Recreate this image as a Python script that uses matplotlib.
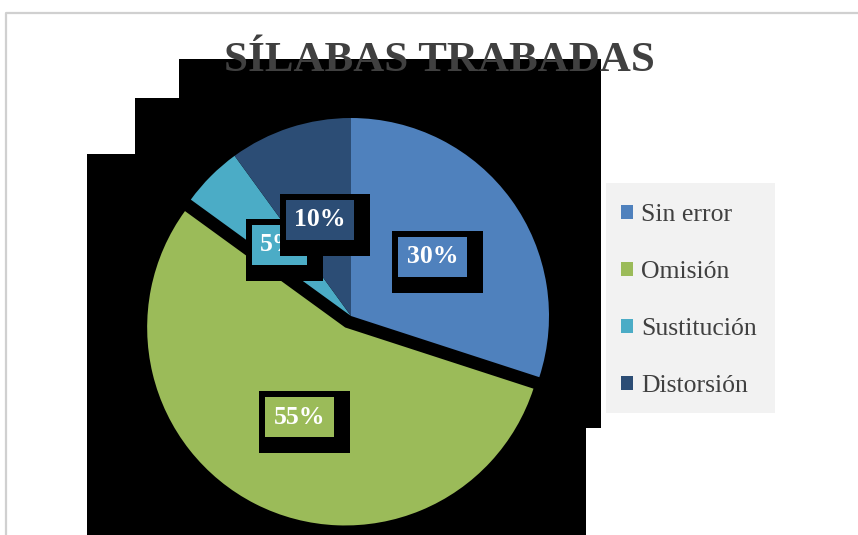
import matplotlib.pyplot as plt
from matplotlib.patches import Polygon, Rectangle
from matplotlib.lines import Line2D
from matplotlib.transforms import offset_copy

# data
categories = ["Sin error", "Omisión", "Sustitución", "Distorsión"]
values = [30, 55, 5, 10]
colors = ["#4F81BD", "#9BBB59", "#4BACC6", "#2C4D75"]
explode = [0, 0.065, 0, 0]

W, H = 858, 535


def px(x, y):
    # pixel (from top-left) -> figure fraction
    return x / W, 1 - y / H


fig = plt.figure(figsize=(W / 100, H / 100), dpi=100)
fig.patch.set_facecolor("white")

# black shadow block behind the chart
blk = [(179, 59), (601, 59), (601, 428), (586, 428), (586, 535), (87, 535),
       (87, 154), (135, 154), (135, 98), (179, 98)]
fig.patches.append(Polygon([px(*p) for p in blk], closed=True, fc="black",
                           ec="none", transform=fig.transFigure, zorder=-2))

# chart frame
fig.lines.append(Line2D([px(6, 0)[0], px(6, 0)[0], 1.0],
                        [0.0, px(0, 13)[1], px(0, 13)[1]],
                        color="#d0d0d0", lw=1.6, transform=fig.transFigure))

# pie axes: centre (351, 316), radius 198 px
cx, cy, r = 351, 316, 198
lim = 1.2
side = 2 * lim * r
l, b = px(cx - side / 2, cy + side / 2)
ax = fig.add_axes([l, b, side / W, side / H])

wedges, _, autotexts = ax.pie(values, colors=colors, explode=explode,
                              startangle=90, counterclock=False,
                              autopct="%1.0f%%", pctdistance=0.51,
                              wedgeprops=dict(linewidth=0),
                              textprops=dict(color="white", fontsize=18.5,
                                             fontweight="bold",
                                             family="Liberation Serif"))
ax.set_xlim(-lim, lim)
ax.set_ylim(-lim, lim)
ax.set_aspect("equal")
ax.axis("off")
ax.patch.set_visible(False)

for i, t in enumerate(autotexts):
    col = colors[i]
    t.set_zorder(11 + 2 * i)
    t.set_bbox(dict(fc=col, ec="none", pad=6.1))
    x, y = t.get_position()
    sh = ax.text(x, y, t.get_text(), color=(0, 0, 0, 0), fontsize=18.5,
                 fontweight="bold", family="Liberation Serif",
                 ha="center", va="center", zorder=10 + 2 * i,
                 transform=offset_copy(ax.transData, fig=fig, x=3.6, y=-3.6,
                                       units="points"),
                 bbox=dict(fc="black", ec="none", pad=14.1))

# title
tx, ty = px(439, 61)
fig.text(tx, ty, "SÍLABAS TRABADAS", ha="center", va="center",
         fontsize=31, fontweight="bold", family="Liberation Serif",
         color="#404040", zorder=20)

# legend box
lx, ly = px(606, 413)
fig.patches.append(Rectangle((lx, ly), (775 - 606) / W, (413 - 183) / H,
                             fc="#f2f2f2", ec="none",
                             transform=fig.transFigure, zorder=1))
leg = fig.legend(wedges, categories, loc="upper left",
                 bbox_to_anchor=px(621, 204), frameon=False,
                 borderpad=0, borderaxespad=0,
                 handlelength=0.47, handleheight=0.47, handletextpad=0.31,
                 labelspacing=1.36,
                 prop=dict(family="Liberation Serif", size=18.5))
leg.set_zorder(5)
for t in leg.get_texts():
    t.set_color("#404040")

fig.savefig("out.png", dpi=100)
